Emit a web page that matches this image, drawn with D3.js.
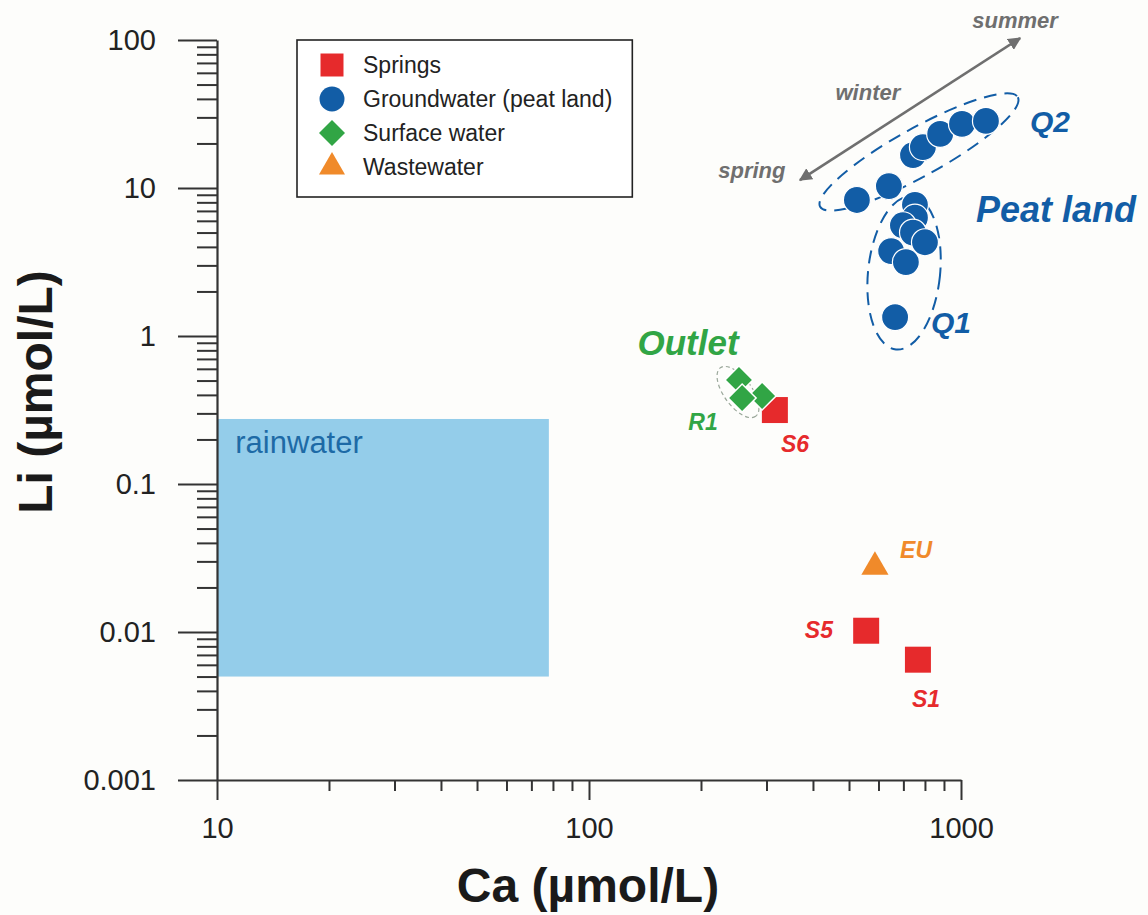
<!DOCTYPE html>
<html>
<head>
<meta charset="utf-8">
<script src="https://cdn.jsdelivr.net/npm/d3@7"></script>
<style>
  body { margin: 0; background: #fdfdfb; }
  svg text { font-family: 'Liberation Sans', Arial, sans-serif; }
</style>
</head>
<body>
<div id="chart"></div>
<script>
// values (Ca and Li in µmol/L)
const springNames = ['S1', 'S5', 'S6']
const springCa = [766, 556, 316]
const springLi = [0.0065, 0.0102, 0.316]

const groundCa = [525, 640, 743, 790, 879, 1006, 1167, 752, 752, 698, 743, 800, 649, 711, 665]
const groundLi = [8.3, 10.3, 16.7, 18.9, 23.2, 27.1, 28.4, 7.7, 6.3, 5.6, 5.0, 4.3, 3.75, 3.16, 1.34]

const surfaceCa = [253, 292, 258]
const surfaceLi = [0.505, 0.393, 0.381]

const wasteCa = [587]
const wasteLi = [0.0275]

const rainCa = [10, 78]
const rainLi = [0.005, 0.275]

const xTickValues = [10, 100, 1000]
const yTickValues = [0.001, 0.01, 0.1, 1, 10, 100]

const legendLabels = ['Springs', 'Groundwater (peat land)', 'Surface water', 'Wastewater']

const red = '#e62a2c'
const blue = '#125da6'
const green = '#31a545'
const orange = '#f08a2a'
const grey = '#6f6f6f'

const margin = { top: 40, left: 217, right: 187, bottom: 135 }
const width = 1148 - margin.left - margin.right
const height = 915 - margin.top - margin.bottom

const root = d3
  .select('#chart')
  .append('svg')
  .attr('width', 1148)
  .attr('height', 915)

const svg = root
  .append('g')
  .attr('transform', 'translate(' + margin.left + ',' + margin.top + ')')

const xPositionScale = d3.scaleLog().domain([10, 1000]).range([0, width])
const yPositionScale = d3.scaleLog().domain([0.001, 100]).range([height, 0])

// minor ticks 2..9 in every decade
function minorTicks(lo, hi) {
  const out = []
  for (let p = lo; p < hi; p++) {
    for (let k = 2; k <= 9; k++) out.push(k * Math.pow(10, p))
  }
  return out
}

// rainwater box
svg
  .append('rect')
  .attr('x', xPositionScale(rainCa[0]))
  .attr('y', yPositionScale(rainLi[1]))
  .attr('width', xPositionScale(rainCa[1]) - xPositionScale(rainCa[0]))
  .attr('height', yPositionScale(rainLi[0]) - yPositionScale(rainLi[1]))
  .attr('fill', '#94cdea')

svg
  .append('text')
  .attr('x', xPositionScale(11.2))
  .attr('y', yPositionScale(0.162))
  .text('rainwater')
  .style('font-size', '31px')
  .attr('fill', '#1d6aa6')

// axes
const yAxis = d3
  .axisLeft(yPositionScale)
  .tickValues(yTickValues)
  .tickSize(39)
  .tickSizeOuter(0)
  .tickPadding(22)
  .tickFormat(d => String(d))
const yMinor = d3
  .axisLeft(yPositionScale)
  .tickValues(minorTicks(-3, 2))
  .tickSize(20)
  .tickFormat('')

const xAxis = d3
  .axisBottom(xPositionScale)
  .tickValues(xTickValues)
  .tickSize(20)
  .tickSizeOuter(0)
  .tickPadding(17)
  .tickFormat(d => String(d))
const xMinor = d3
  .axisBottom(xPositionScale)
  .tickValues(minorTicks(1, 3))
  .tickSize(11)
  .tickFormat('')

svg.append('g').attr('class', 'axis y-minor').call(yMinor)
svg.append('g').attr('class', 'axis y-axis').call(yAxis)
svg
  .append('g')
  .attr('class', 'axis x-minor')
  .attr('transform', 'translate(0,' + height + ')')
  .call(xMinor)
svg
  .append('g')
  .attr('class', 'axis x-axis')
  .attr('transform', 'translate(0,' + height + ')')
  .call(xAxis)
svg.selectAll('.y-minor path, .x-minor path').remove()
svg.selectAll('.axis line').attr('stroke', '#333').attr('stroke-width', 2)
svg.selectAll('.axis path').attr('stroke', '#333').attr('stroke-width', 2.2)
svg
  .selectAll('.axis text')
  .attr('fill', '#222')
  .style('font-size', '29px')
  .style('font-family', "'Liberation Sans', Arial, sans-serif")

// axis titles
svg
  .append('text')
  .attr('x', width / 2 - 1)
  .attr('y', height + 122)
  .attr('text-anchor', 'middle')
  .text('Ca (µmol/L)')
  .style('font-size', '48px')
  .style('font-weight', 'bold')
  .attr('fill', '#1a1a1a')

svg
  .append('text')
  .attr('transform', 'translate(' + (52 - margin.left) + ',' + (392 - margin.top) + ') rotate(-90)')
  .attr('text-anchor', 'middle')
  .text('Li (µmol/L)')
  .style('font-size', '48px')
  .style('font-weight', 'bold')
  .attr('fill', '#1a1a1a')

// dashed groupings
const groups = [
  { ca: 771, li: 17.5, rx: 113, ry: 24, rot: -29, color: blue, dash: '13,8', w: 2 },
  { ca: 703, li: 2.67, rx: 36, ry: 77, rot: 6, color: blue, dash: '13,8', w: 2 },
  { ca: 251.5, li: 0.418, rx: 30, ry: 14, rot: 54, color: '#9aa79a', dash: '4,3', w: 1.2 }
]
svg
  .selectAll('.group-ring')
  .data(groups)
  .enter()
  .append('ellipse')
  .attr('class', 'group-ring')
  .attr('transform', d => 'translate(' + xPositionScale(d.ca) + ',' + yPositionScale(d.li) + ') rotate(' + d.rot + ')')
  .attr('rx', d => d.rx)
  .attr('ry', d => d.ry)
  .attr('fill', 'none')
  .attr('stroke', d => d.color)
  .attr('stroke-width', d => d.w)
  .attr('stroke-dasharray', d => d.dash)

// season arrow
const defs = root.append('defs')
defs
  .append('marker')
  .attr('id', 'head')
  .attr('viewBox', '0 0 10 10')
  .attr('refX', 9)
  .attr('refY', 5)
  .attr('markerWidth', 5)
  .attr('markerHeight', 5)
  .attr('orient', 'auto-start-reverse')
  .append('path')
  .attr('d', 'M0,0 L10,5 L0,10 z')
  .attr('fill', grey)

svg
  .append('line')
  .attr('x1', xPositionScale(369))
  .attr('y1', yPositionScale(11.3))
  .attr('x2', xPositionScale(1442))
  .attr('y2', yPositionScale(103))
  .attr('stroke', grey)
  .attr('stroke-width', 2.6)
  .attr('marker-start', 'url(#head)')
  .attr('marker-end', 'url(#head)')

// points
const springs = springCa.map((d, i) => ({ ca: d, li: springLi[i], name: springNames[i] }))
const ground = groundCa.map((d, i) => ({ ca: d, li: groundLi[i] }))
const surface = surfaceCa.map((d, i) => ({ ca: d, li: surfaceLi[i] }))
const waste = wasteCa.map((d, i) => ({ ca: d, li: wasteLi[i] }))

const place = d => 'translate(' + xPositionScale(d.ca) + ',' + yPositionScale(d.li) + ')'

svg
  .selectAll('.spring')
  .data(springs)
  .enter()
  .append('path')
  .attr('class', 'spring')
  .attr('d', d3.symbol(d3.symbolSquare, 676))
  .attr('transform', place)
  .attr('fill', red)

svg
  .selectAll('.waste')
  .data(waste)
  .enter()
  .append('path')
  .attr('class', 'waste')
  .attr('d', d3.symbol(d3.symbolTriangle, 320))
  .attr('transform', place)
  .attr('fill', orange)

svg
  .selectAll('.surface')
  .data(surface)
  .enter()
  .append('path')
  .attr('class', 'surface')
  .attr('d', d3.symbol(d3.symbolSquare, 392))
  .attr('transform', d => place(d) + ' rotate(45)')
  .attr('fill', green)
  .attr('stroke', '#fff')
  .attr('stroke-width', 1.5)

svg
  .selectAll('.ground')
  .data(ground)
  .enter()
  .append('circle')
  .attr('class', 'ground')
  .attr('cx', d => xPositionScale(d.ca))
  .attr('cy', d => yPositionScale(d.li))
  .attr('r', 13.5)
  .attr('fill', blue)
  .attr('stroke', '#fff')
  .attr('stroke-width', 1.2)

// annotation labels (anchored in data units)
const notes = [
  { t: 'Outlet', ca: 184.6, li: 0.745, size: 35, color: green },
  { t: 'R1', ca: 202.6, li: 0.232, size: 23, color: green },
  { t: 'S6', ca: 358, li: 0.164, size: 23, color: red },
  { t: 'S5', ca: 415, li: 0.0091, size: 23, color: red },
  { t: 'S1', ca: 805, li: 0.00311, size: 23, color: red },
  { t: 'EU', ca: 757, li: 0.0316, size: 23, color: orange },
  { t: 'Q2', ca: 1735, li: 23.9, size: 30, color: blue },
  { t: 'Peat land', ca: 1800, li: 5.89, size: 36, color: blue },
  { t: 'Q1', ca: 940, li: 1.05, size: 30, color: blue },
  { t: 'summer', ca: 1397, li: 120, size: 22, color: grey },
  { t: 'winter', ca: 562, li: 39.3, size: 22, color: grey },
  { t: 'spring', ca: 274, li: 11.7, size: 22, color: grey }
]
svg
  .selectAll('.note')
  .data(notes)
  .enter()
  .append('text')
  .attr('class', 'note')
  .attr('x', d => xPositionScale(d.ca))
  .attr('y', d => yPositionScale(d.li))
  .attr('text-anchor', 'middle')
  .text(d => d.t)
  .style('font-size', d => d.size + 'px')
  .style('font-weight', 'bold')
  .style('font-style', 'italic')
  .attr('fill', d => d.color)

// legend
const legend = root.append('g').attr('transform', 'translate(297,40)')
const legendBox = legend
  .append('rect')
  .attr('fill', '#fff')
  .attr('stroke', '#222')
  .attr('stroke-width', 1.6)
const rowY = [25, 59, 93, 127]
const legendSymbols = [
  { shape: d3.symbolSquare, size: 529, color: red, rot: 0 },
  { shape: d3.symbolCircle, size: 490, color: blue, rot: 0 },
  { shape: d3.symbolSquare, size: 338, color: green, rot: 45 },
  { shape: d3.symbolTriangle, size: 293, color: orange, rot: 0 }
]
legend
  .selectAll('.lsym')
  .data(legendSymbols)
  .enter()
  .append('path')
  .attr('d', d => d3.symbol(d.shape, d.size)())
  .attr('transform', (d, i) => 'translate(35,' + rowY[i] + ') rotate(' + d.rot + ')')
  .attr('fill', d => d.color)
const ltext = legend
  .selectAll('.ltext')
  .data(legendLabels)
  .enter()
  .append('text')
  .attr('x', 66)
  .attr('y', (d, i) => rowY[i] + 8)
  .text(d => d)
  .style('font-size', '23px')
  .attr('fill', '#222')
let maxW = 0
ltext.each(function() {
  maxW = Math.max(maxW, this.getBBox().width)
})
legendBox.attr('width', 66 + maxW + 20).attr('height', 157)
</script>
</body>
</html>
